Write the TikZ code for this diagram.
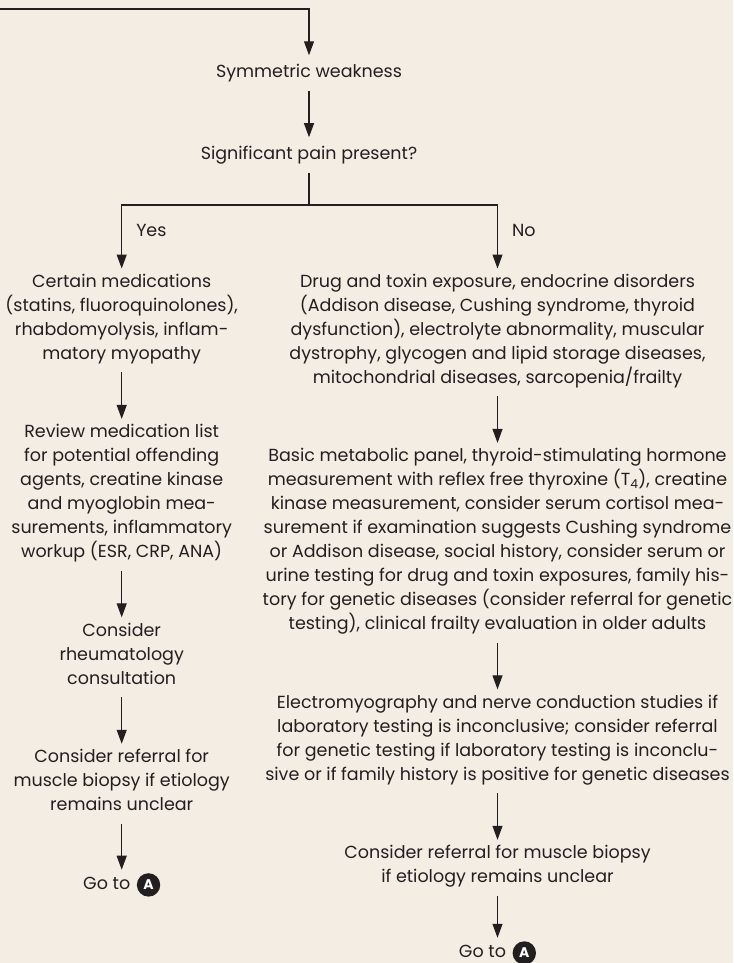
\documentclass[tikz,border=0pt]{standalone}
\usepackage{fontspec}
\setmainfont{Poppins}
\usepackage{xcolor}
\usepackage{tikz}
\usetikzlibrary{arrows.meta,positioning}
\definecolor{paper}{RGB}{243,237,227}
\definecolor{ink}{RGB}{35,31,32}

\begin{document}
\begin{tikzpicture}[
  x=1pt, y=-1pt,
  node distance=46.5pt,
  every node/.style={text=ink, font=\fontsize{17.5}{24}\selectfont},
  box/.style={align=center, inner xsep=0pt, inner ysep=5.5pt, execute at begin node=\strut, execute at end node=\strut},
  goto/.style={inner xsep=0pt, inner ysep=3pt, execute at begin node=\strut},
  letterA/.style={circle, fill=ink, text=white, inner sep=0pt, minimum size=23.4pt, font=\bfseries\fontsize{14}{14}\selectfont},
  lbl/.style={inner sep=0pt, right=14pt},
  arrow/.style={-{Triangle[length=14pt, width=10pt]}, line width=1.1pt, ink},
  line/.style={line width=1.1pt, ink}
]
  \fill[paper] (0,0) rectangle (733,963);
  \coordinate (start) at (0,9);
  \node[box] (sym) at (309,73) {Symmetric weakness};
  \node[box, below=of sym] (pain) {Significant pain present?};
  \coordinate (split) at (309,205);
  % yes branch
  \node[box, anchor=north] (meds) at (121.7,268.5) {Certain medications\\(statins, fluoroquinolones),\\rhabdomyolysis, inflam-\\matory myopathy};
  \node[box, below=of meds] (review) {Review medication list\\for potential offending\\agents, creatine kinase\\and myoglobin mea-\\surements, inflammatory\\workup (ESR, CRP, ANA)};
  \node[box, below=of review] (rheum) {Consider\\rheumatology\\consultation};
  \node[box, below=of rheum] (biopsyL) {Consider referral for\\muscle biopsy if etiology\\remains unclear};
  \node[goto, below=46pt of biopsyL] (gotoL) {Go to\kern30pt};
  \node[letterA, left=0pt of gotoL.east] (aL) {A};
  % no branch
  \node[box, anchor=north] (drug) at (497.5,268.5) {Drug and toxin exposure, endocrine disorders\\(Addison disease, Cushing syndrome, thyroid\\dysfunction), electrolyte abnormality, muscular\\dystrophy, glycogen and lipid storage diseases,\\mitochondrial diseases, sarcopenia/frailty};
  \node[box, below=of drug] (panel) {Basic metabolic panel, thyroid-stimulating hormone\\measurement with reflex free thyroxine (T\textsubscript{4}), creatine\\kinase measurement, consider serum cortisol mea-\\surement if examination suggests Cushing syndrome\\or Addison disease, social history, consider serum or\\urine testing for drug and toxin exposures, family his-\\tory for genetic diseases (consider referral for genetic\\testing), clinical frailty evaluation in older adults};
  \node[box, below=of panel] (emg) {Electromyography and nerve conduction studies if\\laboratory testing is inconclusive; consider referral\\for genetic testing if laboratory testing is inconclu-\\sive or if family history is positive for genetic diseases};
  \node[box, below=of emg] (biopsyR) {Consider referral for muscle biopsy\\if etiology remains unclear};
  \node[goto, below=42pt of biopsyR] (gotoR) {Go to\kern30pt};
  \node[letterA, left=0pt of gotoR.east] (aR) {A};
  % connectors
  \draw[arrow] (start) -| (sym.north);
  \draw[arrow] (sym) -- (pain);
  \draw[line] (pain.south) -- (split);
  \draw[arrow] (split) -| node[lbl, pos=0.7] (yes) {Yes} (meds.north);
  \draw[arrow] (split) -| node[lbl, pos=0.7] (no) {No} (drug.north);
  \draw[arrow] (meds) -- (review);
  \draw[arrow] (review) -- (rheum);
  \draw[arrow] (rheum) -- (biopsyL);
  \draw[arrow] (biopsyL) -- (gotoL.north -| biopsyL.south);
  \draw[arrow] (drug) -- (panel);
  \draw[arrow] (panel) -- (emg);
  \draw[arrow] (emg) -- (biopsyR);
  \draw[arrow] (biopsyR) -- (gotoR.north -| biopsyR.south);
  \pgfresetboundingbox
  \useasboundingbox (0,0) rectangle (733,963);
\end{tikzpicture}
\end{document}
